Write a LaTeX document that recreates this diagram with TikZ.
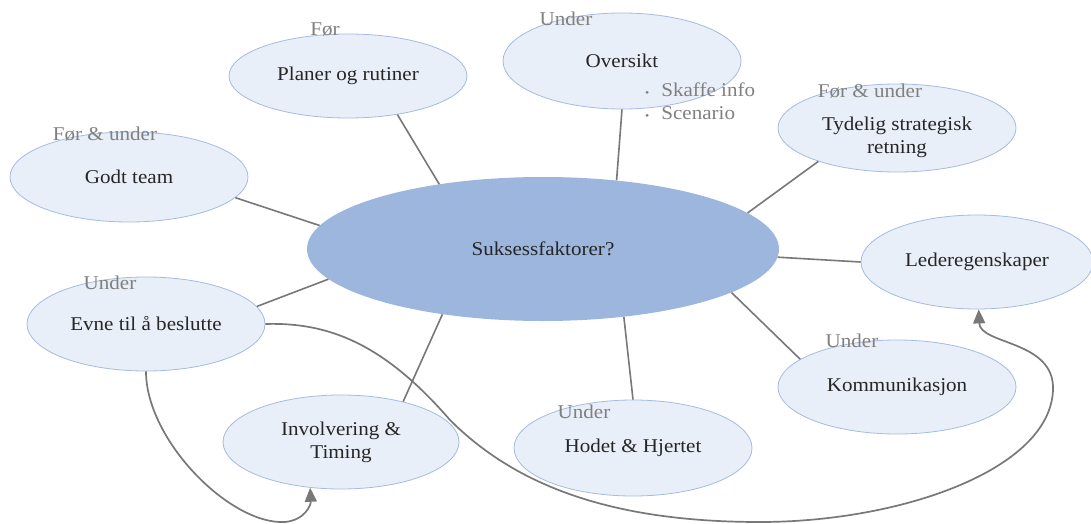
\documentclass[tikz,border=0pt]{standalone}
\usepackage{fontspec}
\setmainfont[FakeStretch=1.08]{Liberation Serif}
\usetikzlibrary{shapes.geometric,arrows.meta}
\definecolor{hubfill}{RGB}{157,182,222}
\definecolor{bubfill}{RGB}{233,239,248}
\definecolor{bubline}{RGB}{165,188,222}
\definecolor{linkgray}{RGB}{120,120,120}
\definecolor{tagtext}{RGB}{128,128,128}
\definecolor{maintext}{RGB}{38,38,38}

\begin{document}
\begin{tikzpicture}[x=1pt,y=-1pt,
  every node/.style={font=\fontsize{19.5}{23}\selectfont},
  hub/.style={ellipse, fill=hubfill, minimum width=472pt, minimum height=144pt,
    inner sep=0pt, text=maintext},
  bub/.style={ellipse, fill=bubfill, draw=bubline, line width=0.8pt,
    minimum width=238pt, minimum height=94pt, inner sep=0pt, text=maintext,
    align=center},
  tag/.style={text=tagtext, inner sep=0pt},
  caption/.style={text=maintext, inner sep=0pt, align=center},
  link/.style={draw=linkgray, line width=1.6pt},
  flow/.style={draw=linkgray, line width=1.7pt,
    -{Triangle[length=14pt,width=12pt]}},
]
% canvas
\fill[white] (0,0) rectangle (1091,524);
\useasboundingbox (0,0) rectangle (1091,524);

% central hub
\node[hub] (C) at (543,249) {Suksessfaktorer?};

% surrounding factors
\node[bub, minimum height=84pt] (P) at (348,76) {Planer og rutiner};
\node[bub, minimum height=96pt] (O) at (622,61) {Oversikt};
\node[bub, minimum height=88pt] (T) at (897,128) {};
\node[caption] (Ttxt) at (897,137) {Tydelig strategisk\\retning};
\node[bub, minimum height=90pt] (G) at (129,177) {Godt team};
\node[bub, minimum width=232pt] (L) at (977,262) {Lederegenskaper};
\node[bub] (E) at (146,324) {Evne til å beslutte};
\node[bub] (K) at (897,387) {Kommunikasjon};
\node[bub, minimum height=96pt] (H) at (633,448) {Hodet \& Hjertet};
\node[bub, minimum width=236pt] (I) at (341,442) {Involvering \&\\Timing};

% phase tags
\node[tag] (tP) at (325,30) {Før};
\node[tag] (tO) at (566,19) {Under};
\node[tag] (tT) at (870,91) {Før \& under};
\node[tag] (tG) at (105,134) {Før \& under};
\node[tag] (tE) at (110,283) {Under};
\node[tag] (tK) at (852,341) {Under};
\node[tag] (tH) at (584,412) {Under};

% sub-points under Oversikt
\node[tag, anchor=west] (b1) at (645,90) {{\fontsize{11}{11}\selectfont•}\hspace{12pt}Skaffe info};
\node[tag, anchor=west] (b2) at (645,113) {{\fontsize{11}{11}\selectfont•}\hspace{12pt}Scenario};

% spokes
\draw[link] (P.-38) -- (C.148);
\draw[link] (O.south) -- (C.43);
\draw[link] (T.203) -- (C.10);
\draw[link] (L.west) -- (C.-2);
\draw[link] (G.-11) -- (C.174);
\draw[link] (E.9) -- (C.188);
\draw[link] (K.164) -- (C.-13);
\draw[link] (H.north) -- (C.-40);
\draw[link] (I.33) -- (C.-147);

% curved arrows
\draw[flow] (E.south) .. controls (146,440) and (230,525) .. (285,522)
  .. controls (305,520) and (311,505) .. (I.-124);
\draw[flow] (E.east) .. controls (330,322) and (385,345) .. (450,420)
  .. controls (520,490) and (620,522) .. (760,522)
  .. controls (900,522) and (1050,470) .. (1053,390)
  .. controls (1055,340) and (980,345) .. (L.-88);
\end{tikzpicture}
\end{document}
